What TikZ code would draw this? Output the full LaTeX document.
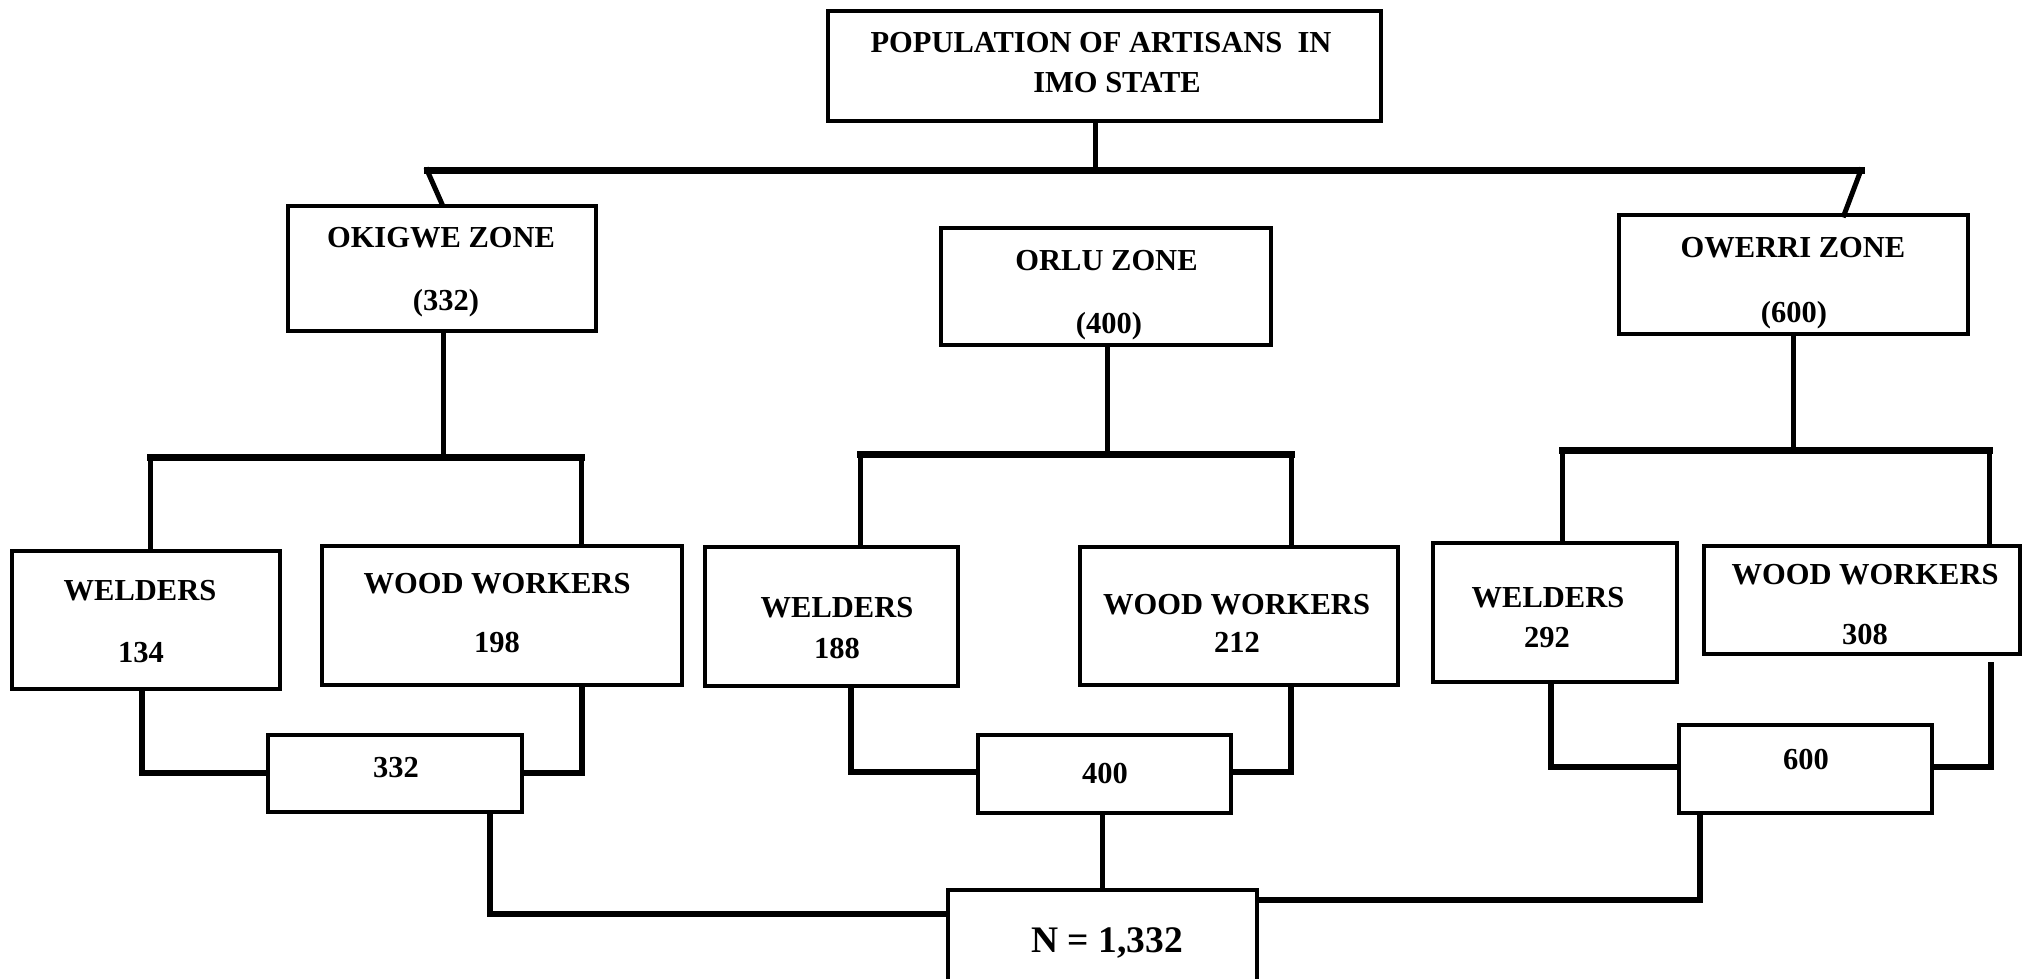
\documentclass[tikz,border=0pt]{standalone}
\usepackage{fontspec}
\setmainfont{Liberation Serif}
\begin{document}
\begin{tikzpicture}[x=1pt,y=-1pt,
  box/.style={draw,line width=4pt,inner sep=0pt},
  lbl/.style={anchor=base,inner sep=0pt,font=\bfseries\fontsize{30.5}{36}\selectfont},
  big/.style={anchor=base,inner sep=0pt,font=\bfseries\fontsize{37.5}{44}\selectfont},
  wire/.style={line width=5pt,line cap=rect},
  bus/.style={line width=7pt,line cap=rect},
  elbow/.style={line width=6pt}]
\useasboundingbox (0,0) rectangle (2028,979);

% ---- boxes ----
\node[box,minimum width=553pt,minimum height=110pt] (top) at (1104.5,66) {};
\node[box,minimum width=308pt,minimum height=125pt] (okg) at (442,268.5) {};
\node[box,minimum width=330pt,minimum height=117pt] (orl) at (1106,286.5) {};
\node[box,minimum width=349pt,minimum height=119pt] (owr) at (1793.5,274.5) {};

\node[box,minimum width=268pt,minimum height=138pt] (w1)  at (146,620) {};
\node[box,minimum width=360pt,minimum height=139pt] (ww1) at (502,615.5) {};
\node[box,minimum width=253pt,minimum height=139pt] (w2)  at (831.5,616.5) {};
\node[box,minimum width=318pt,minimum height=138pt] (ww2) at (1239,616) {};
\node[box,minimum width=244pt,minimum height=139pt] (w3)  at (1555,612.5) {};
\node[box,minimum width=316pt,minimum height=108pt] (ww3) at (1862,600) {};

\node[box,minimum width=254pt,minimum height=77pt] (s1) at (395,773.5) {};
\node[box,minimum width=253pt,minimum height=78pt] (s2) at (1104.5,774) {};
\node[box,minimum width=253pt,minimum height=88pt] (s3) at (1805.5,769) {};
\node[box,minimum width=309pt,minimum height=100pt] (tot) at (1102.5,940) {};

% ---- labels ----
\node[lbl] (topA) at (1101,53) {POPULATION OF ARTISANS\ \ IN};
\node[lbl] (topB) at (1117,93) {IMO STATE};
\node[lbl] (okgA) at (441,247) {OKIGWE ZONE};
\node[lbl] (okgB) at (446,310) {(332)};
\node[lbl] (orlA) at (1106.5,270) {ORLU ZONE};
\node[lbl] (orlB) at (1109,333) {(400)};
\node[lbl] (owrA) at (1793,257) {OWERRI ZONE};
\node[lbl] (owrB) at (1794,322) {(600)};

\node[lbl] (w1A)  at (140,600) {WELDERS};
\node[lbl] (w1B)  at (141,662) {134};
\node[lbl] (ww1A) at (497,593) {WOOD WORKERS};
\node[lbl] (ww1B) at (497,652) {198};
\node[lbl] (w2A)  at (837,617) {WELDERS};
\node[lbl] (w2B)  at (837,658) {188};
\node[lbl] (ww2A) at (1236.5,614) {WOOD WORKERS};
\node[lbl] (ww2B) at (1237,652) {212};
\node[lbl] (w3A)  at (1548,607) {WELDERS};
\node[lbl] (w3B)  at (1547,647) {292};
\node[lbl] (ww3A) at (1865,584) {WOOD WORKERS};
\node[lbl] (ww3B) at (1865,644) {308};

\node[lbl] (s1T) at (396,777) {332};
\node[lbl] (s2T) at (1105,783) {400};
\node[lbl] (s3T) at (1806,769) {600};
\node[big] (totT) at (1107,952) {N = 1,332};

% ---- branch points ----
\coordinate (tb) at (1095,170);
\coordinate (tL) at (427,170);
\coordinate (tR) at (1861,170);
\coordinate (owrIn) at (1844,215);

\coordinate (k0) at (443,457);
\coordinate (kL) at (150,457);
\coordinate (kR) at (581,457);
\coordinate (o0) at (1107,454);
\coordinate (oL) at (860,454);
\coordinate (oR) at (1291,454);
\coordinate (e0) at (1793,450);
\coordinate (eL) at (1562,450);
\coordinate (eR) at (1989,450);

\coordinate (a1) at (142,773);
\coordinate (b1) at (582,773);
\coordinate (a2) at (851,772);
\coordinate (b2) at (1291,772);
\coordinate (a3) at (1551,767);
\coordinate (b3) at (1991,767);
\coordinate (b3top) at (1991,662);

\coordinate (j1) at (490,914);
\coordinate (j3) at (1700,900);

% ---- top level ----
\draw[wire] (tb |- top.south) -- (tb);
\draw[bus] (tL) -- (tR);
\draw[wire] (tL) -- (okg.north);
\draw[wire] (tR) -- (owrIn);

% ---- zones to trades ----
\draw[wire] (okg.south -| k0) -- (k0);
\draw[bus] (kL) -- (kR);
\draw[wire] (kL) -- (kL |- w1.north);
\draw[wire] (kR) -- (kR |- ww1.north);

\draw[wire] (orl.south -| o0) -- (o0);
\draw[bus] (oL) -- (oR);
\draw[wire] (oL) -- (oL |- w2.north);
\draw[wire] (oR) -- (oR |- ww2.north);

\draw[wire] (owr.south -| e0) -- (e0);
\draw[bus] (eL) -- (eR);
\draw[wire] (eL) -- (eL |- w3.north);
\draw[wire] (eR) -- (eR |- ww3.north);

% ---- trades to zone totals ----
\draw[elbow] (w1.south -| a1) -- (a1) -- (s1.west |- a1);
\draw[elbow] (ww1.south -| b1) -- (b1) -- (s1.east |- b1);
\draw[elbow] (w2.south -| a2) -- (a2) -- (s2.west |- a2);
\draw[elbow] (ww2.south -| b2) -- (b2) -- (s2.east |- b2);
\draw[elbow] (w3.south -| a3) -- (a3) -- (s3.west |- a3);
\draw[elbow] (b3top) -- (b3) -- (s3.east |- b3);

% ---- zone totals to grand total ----
\draw[elbow] (s1.south -| j1) -- (j1) -- (tot.west |- j1);
\draw[wire] (s2.south -| tot.north) -- (tot.north);
\draw[elbow] (s3.south -| j3) -- (j3) -- (tot.east |- j3);
\end{tikzpicture}
\end{document}
